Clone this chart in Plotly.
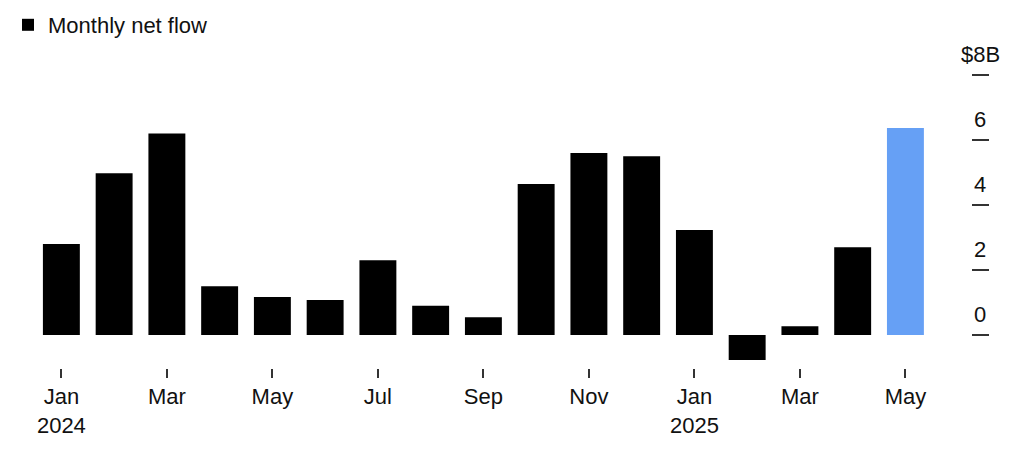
import plotly.graph_objects as go

months = ["2024-01", "2024-02", "2024-03", "2024-04", "2024-05", "2024-06",
          "2024-07", "2024-08", "2024-09", "2024-10", "2024-11", "2024-12",
          "2025-01", "2025-02", "2025-03", "2025-04", "2025-05"]
net_flow = [2.8, 4.98, 6.2, 1.5, 1.17, 1.08, 2.3, 0.9, 0.55, 4.65, 5.6, 5.5,
            3.23, -0.77, 0.27, 2.7, 6.37]
x_tickvals = ["2024-01", "2024-03", "2024-05", "2024-07", "2024-09", "2024-11",
              "2025-01", "2025-03", "2025-05"]
x_ticktext = ["Jan<br>2024", "Mar", "May", "Jul", "Sep", "Nov",
              "Jan<br>2025", "Mar", "May"]
y_tickvals = [0, 2, 4, 6, 8]
y_ticktext = ["0", "2", "4", "6", "$8B"]

BLACK = "#000000"
BLUE = "#66a0f5"
bar_colors = [BLACK] * (len(months) - 1) + [BLUE]

FONT = "Liberation Sans, Arial, Helvetica, sans-serif"
# page body has an 8px margin, so the figure is sized/offset to compensate
OFF = 8
W, H = 1024 - OFF, 456 - OFF
ML, MR, MT, MB = 35 - OFF, 20, 75 - OFF, 88
plot_w = W - ML - MR
plot_h = H - MT - MB
x_dom_end = 896.8 / plot_w
y_axis_pos = (971 - OFF - ML) / plot_w
label_x = (980 - OFF - ML) / plot_w

fig = go.Figure()
fig.add_trace(go.Bar(
    x=months, y=net_flow, name="Monthly net flow",
    marker=dict(color=bar_colors, line=dict(width=0)),
    showlegend=True,
))

annotations = []
for v, t in zip(y_tickvals, y_ticktext):
    annotations.append(dict(
        x=label_x, xref="paper", y=v, yref="y", text=t, showarrow=False,
        xanchor="center", yanchor="bottom", yshift=6,
        font=dict(family=FONT, size=22, color="#111111"),
    ))

fig.update_layout(
    width=W, height=H,
    margin=dict(l=ML, r=MR, t=MT, b=MB, autoexpand=False),
    paper_bgcolor="white", plot_bgcolor="white",
    font=dict(family=FONT, size=22, color="#111111"),
    bargap=0.3,
    showlegend=True,
    legend=dict(
        xref="container", yref="paper", x=0.0, y=1.0 + (MT + 4) / plot_h,
        xanchor="left", yanchor="top",
        font=dict(family=FONT, size=22, color="#111111"),
        bgcolor="rgba(0,0,0,0)",
    ),
    xaxis=dict(
        type="category", domain=[0, x_dom_end], range=[-0.5, len(months) - 0.5],
        tickmode="array", tickvals=x_tickvals, ticktext=x_ticktext,
        ticks="outside", ticklen=9, tickwidth=1.5, tickcolor="#333333",
        showline=False, showgrid=False, zeroline=False, automargin=False,
        tickfont=dict(family=FONT, size=22, color="#111111"),
    ),
    yaxis=dict(
        range=[-1.015, 8], anchor="free", position=y_axis_pos, side="right",
        tickmode="array", tickvals=y_tickvals, showticklabels=False,
        ticks="outside", ticklen=17, tickwidth=2, tickcolor="#333333",
        showline=False, showgrid=False, zeroline=False, automargin=False,
    ),
    annotations=annotations,
)

fig.write_html("out.html")
